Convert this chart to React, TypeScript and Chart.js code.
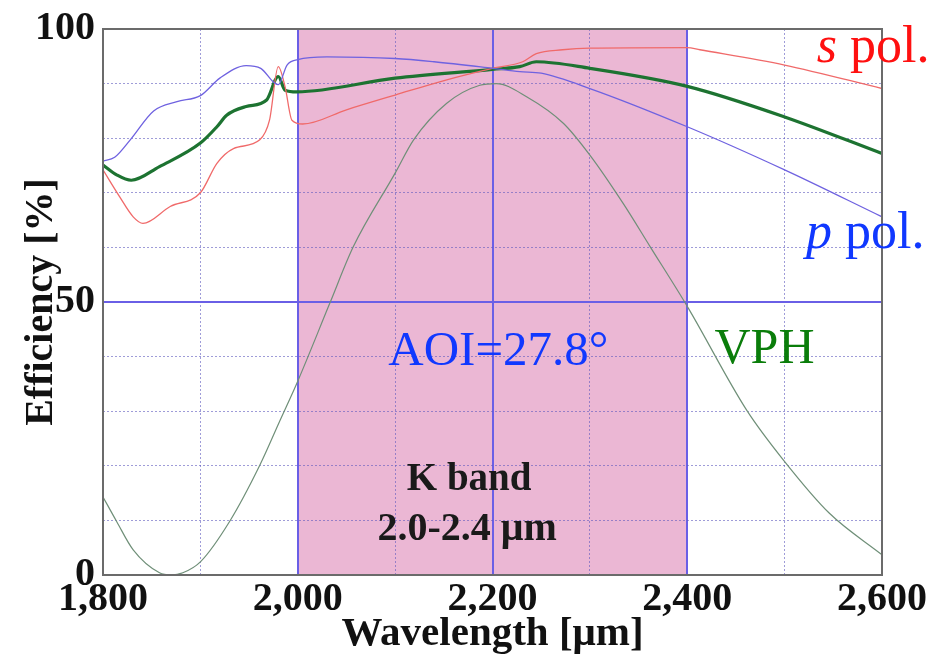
import React, { useEffect, useRef } from 'react';
import { Chart, registerables } from 'chart.js';

Chart.register(...registerables);

// ---- data ----
const xTickStep = 100;
const xLabelStep = 200;
const yTickStep = 10;
const yLabelStep = 50;
const xRange = [1800, 2600];
const yRange = [0, 100];
const kBand = [2000, 2400];

const pPolWavelength = [1800, 1812, 1828, 1852, 1876, 1900, 1920, 1947, 1962, 1975, 1980, 1989, 2000, 2030, 2100, 2140, 2200, 2228, 2250, 2300, 2400, 2500, 2600];
const pPolEfficiency = [75.8, 76.5, 79.7, 85.0, 86.7, 87.8, 91.0, 93.3, 92.8, 90.3, 89.8, 93.4, 94.4, 94.9, 94.6, 94.0, 92.8, 92.2, 91.9, 89.1, 82.1, 74.2, 65.6];

const sPolWavelength = [1800, 1817, 1831, 1841, 1869, 1900, 1917, 1934, 1961, 1971, 1980, 1987, 1994, 2005, 2050, 2100, 2153, 2200, 2231, 2245, 2272, 2300, 2400, 2413, 2500, 2600];
const sPolEfficiency = [74.2, 69.3, 65.6, 64.4, 67.5, 70.0, 75.4, 78.1, 79.7, 83.3, 93.1, 89.4, 83.3, 82.6, 85.2, 87.9, 90.7, 92.8, 94.0, 95.5, 96.2, 96.5, 96.6, 96.2, 93.4, 89.1];

const avgWavelength = [1800, 1814, 1829, 1858, 1900, 1917, 1927, 1947, 1968, 1980, 1987, 1999, 2100, 2200, 2228, 2245, 2300, 2400, 2500, 2600];
const avgEfficiency = [75.1, 73.3, 72.3, 74.8, 79.1, 82.1, 84.2, 85.8, 87.0, 91.3, 88.8, 88.5, 91.0, 92.6, 93.1, 94.0, 92.8, 89.5, 83.9, 77.2];

const vphWavelength = [1800, 1814, 1831, 1858, 1870, 1882, 1900, 1930, 1961, 1982, 2000, 2033, 2057, 2100, 2119, 2153, 2187, 2204, 2235, 2273, 2300, 2334, 2362, 2400, 2461, 2499, 2546, 2600];
const vphEfficiency = [14.3, 9.8, 4.6, 0.4, 0.0, 0.4, 2.4, 9.8, 20.1, 28.4, 35.5, 49.8, 60.1, 73.6, 79.7, 86.4, 89.7, 90.0, 87.6, 82.7, 76.9, 68.1, 60.1, 49.2, 30.2, 21.0, 11.3, 3.7];

const xTitle = 'Wavelength [μm]';
const yTitle = 'Efficiency [%]';
const aoiLabel = 'AOI=27.8°';
const vphLabel = 'VPH';
const kBandLines = ['K band', '2.0-2.4 μm'];

const SERIF = '"Liberation Serif", "Times New Roman", serif';

const pts = (xs: number[], ys: number[]) => xs.map((x, i) => ({ x, y: ys[i] }));

export default function App() {
  const ref = useRef<HTMLCanvasElement>(null);

  useEffect(() => {
    if (!ref.current) return;

    const bgPlugin = {
      id: 'bg',
      beforeDraw(chart: any) {
        const { ctx, chartArea, scales } = chart;
        ctx.save();
        ctx.fillStyle = '#ffffff';
        ctx.fillRect(0, 0, chart.width, chart.height);
        const x0 = scales.x.getPixelForValue(kBand[0]);
        const x1 = scales.x.getPixelForValue(kBand[1]);
        ctx.fillStyle = '#ebb7d4';
        ctx.fillRect(x0, chartArea.top, x1 - x0, chartArea.bottom - chartArea.top);
        ctx.restore();
      },
    };

    const framePlugin = {
      id: 'frame',
      afterDatasetsDraw(chart: any) {
        const { ctx, chartArea, scales } = chart;
        const X = (v: number) => scales.x.getPixelForValue(v);
        const Y = (v: number) => scales.y.getPixelForValue(v);
        ctx.save();
        ctx.strokeStyle = '#6b6b6b';
        ctx.lineWidth = 2;
        ctx.strokeRect(chartArea.left, chartArea.top, chartArea.right - chartArea.left, chartArea.bottom - chartArea.top);

        ctx.textBaseline = 'alphabetic';
        // AOI
        ctx.font = `49px ${SERIF}`;
        ctx.fillStyle = '#1038ff';
        ctx.textAlign = 'left';
        ctx.fillText(aoiLabel, X(2093), Y(38.5));
        // VPH
        ctx.font = `50px ${SERIF}`;
        ctx.fillStyle = '#0a7d0a';
        ctx.fillText(vphLabel, X(2428), Y(38.8));
        // K band
        ctx.font = `bold 39px ${SERIF}`;
        ctx.fillStyle = '#1a1a1a';
        ctx.textAlign = 'center';
        ctx.fillText(kBandLines[0], X(2176), Y(15.6));
        ctx.font = `bold 40px ${SERIF}`;
        ctx.fillText(kBandLines[1], X(2174), Y(6.4));
        // s pol. / p pol.
        const polLabel = (letter: string, color: string, xv: number, yv: number) => {
          ctx.textAlign = 'left';
          ctx.fillStyle = color;
          ctx.font = `italic 52px ${SERIF}`;
          const px = X(xv);
          const py = Y(yv);
          ctx.fillText(letter, px, py);
          const w = ctx.measureText(letter).width;
          ctx.font = `52px ${SERIF}`;
          ctx.fillText(' pol.', px + w, py);
        };
        polLabel('s', '#ff1010', 2533, 94.0);
        polLabel('p', '#1038ff', 2522, 59.9);
        ctx.restore();
      },
    };

    const isMajorX = (v: number) => Math.abs(v % xLabelStep) < 1e-6;
    const isMajorY = (v: number) => Math.abs(v % yLabelStep) < 1e-6;

    const chart = new Chart(ref.current, {
      type: 'line',
      data: {
        datasets: [
          { label: 'VPH', data: pts(vphWavelength, vphEfficiency), borderColor: '#6f8f78', borderWidth: 1.2 },
          { label: 'p pol.', data: pts(pPolWavelength, pPolEfficiency), borderColor: '#6f62e0', borderWidth: 1.3 },
          { label: 's pol.', data: pts(sPolWavelength, sPolEfficiency), borderColor: '#f06a6a', borderWidth: 1.3 },
          { label: 'average', data: pts(avgWavelength, avgEfficiency), borderColor: '#1d7331', borderWidth: 3.2 },
        ],
      },
      options: {
        animation: false,
        responsive: false,
        maintainAspectRatio: false,
        parsing: true,
        elements: { point: { radius: 0 }, line: { cubicInterpolationMode: 'monotone', fill: false } },
        layout: { padding: { top: 29, right: 67, left: 0, bottom: 0 } },
        plugins: { legend: { display: false }, tooltip: { enabled: false }, title: { display: false } },
        scales: {
          x: {
            type: 'linear',
            min: xRange[0],
            max: xRange[1],
            afterFit: (s: any) => { s.height = 85; },
            ticks: {
              stepSize: xTickStep,
              autoSkip: false,
              maxRotation: 0,
              padding: 5,
              color: '#111',
              font: { family: SERIF, size: 40, weight: 'bold', lineHeight: 1 },
              callback: (v: any) => (isMajorX(Number(v)) ? Number(v).toLocaleString('en-US') : ''),
            },
            grid: {
              drawTicks: false,
              color: (c: any) => {
                const v = c.tick?.value;
                if (v === xRange[0] || v === xRange[1]) return 'rgba(0,0,0,0)';
                return isMajorX(v) ? '#6a5fe6' : 'rgba(95,90,190,0.6)';
              },
              lineWidth: (c: any) => (c.tick && isMajorX(c.tick.value) ? 2 : 1),
            },
            border: {
              display: false,
              dash: (c: any) => (c.tick && !isMajorX(c.tick.value) ? [2, 2] : []),
            },
            title: {
              display: true,
              text: xTitle,
              color: '#111',
              font: { family: SERIF, size: 41, weight: 'bold', lineHeight: 1 },
              padding: { top: 0, bottom: 5 },
            },
          },
          y: {
            type: 'linear',
            min: yRange[0],
            max: yRange[1],
            afterFit: (s: any) => { s.width = 103; },
            ticks: {
              stepSize: yTickStep,
              autoSkip: false,
              padding: 8,
              color: '#111',
              font: { family: SERIF, size: 40, weight: 'bold', lineHeight: 1 },
              callback: (v: any) => (isMajorY(Number(v)) ? String(v) : ''),
            },
            grid: {
              drawTicks: false,
              color: (c: any) => {
                const v = c.tick?.value;
                if (v === yRange[0] || v === yRange[1]) return 'rgba(0,0,0,0)';
                return isMajorY(v) ? '#6a5fe6' : 'rgba(95,90,190,0.6)';
              },
              lineWidth: (c: any) => (c.tick && isMajorY(c.tick.value) ? 2 : 1),
            },
            border: {
              display: false,
              dash: (c: any) => (c.tick && !isMajorY(c.tick.value) ? [2, 2] : []),
            },
            title: {
              display: true,
              text: yTitle,
              color: '#111',
              font: { family: SERIF, size: 40, weight: 'bold', lineHeight: 1 },
              padding: { top: 22, bottom: 0 },
            },
          },
        },
      },
      plugins: [bgPlugin, framePlugin],
    } as any);

    return () => chart.destroy();
  }, []);

  return (
    <div style={{ position: 'fixed', left: 0, top: 0, width: 949, height: 660, background: '#fff' }}>
      <canvas ref={ref} width={949} height={660} style={{ width: 949, height: 660, display: 'block' }} />
    </div>
  );
}
